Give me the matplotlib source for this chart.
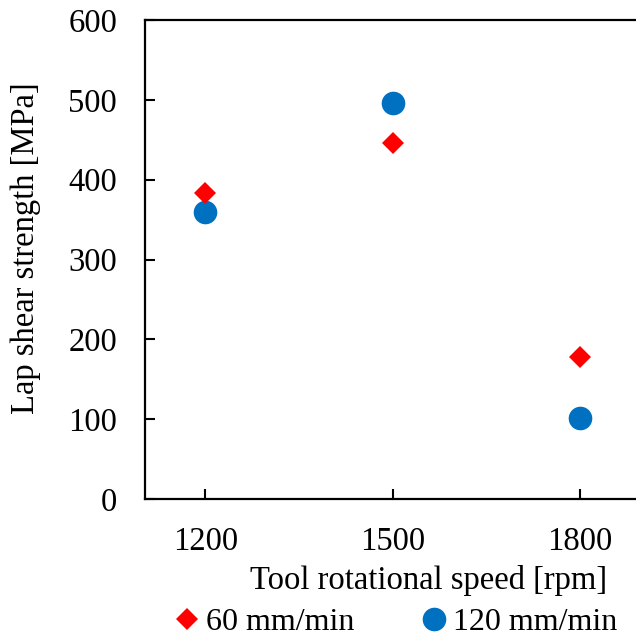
import matplotlib
matplotlib.use("Agg")
import matplotlib.pyplot as plt
from matplotlib.lines import Line2D

plt.rcParams['font.family'] = ['Liberation Serif', 'DejaVu Serif']

speeds = [1200, 1500, 1800]
strength_60 = [383, 446, 178]
strength_120 = [360, 496, 102]
series_labels = ['60 mm/min', '120 mm/min']
xticks = [1200, 1500, 1800]
yticks = [0, 100, 200, 300, 400, 500, 600]

fig = plt.figure(figsize=(6.36, 6.40), dpi=100)
ax = fig.add_axes([145/636, 141/640, 497/636, 479/640])

red = '#FF0000'
blue = '#0070C0'
ax.plot(speeds, strength_120, linestyle='none', marker='o', markersize=17,
        color=blue, markeredgewidth=0, label=series_labels[1], zorder=3)
ax.plot(speeds, strength_60, linestyle='none', marker='D', markersize=11.5,
        color=red, markeredgewidth=0, label=series_labels[0], zorder=4)

ax.set_xlim(1103, 1900)
ax.set_ylim(0, 600)
ax.set_xticks(xticks)
ax.set_yticks(yticks)
ax.tick_params(direction='in', length=7, width=1.5, labelsize=23.5)
ax.tick_params(axis='y', pad=20)
ax.tick_params(axis='x', pad=20)
for s in ax.spines.values():
    s.set_linewidth(1.6)
    s.set_color('black')

ax.set_xlabel('Tool rotational speed [rpm]', fontsize=23.5)
ax.xaxis.set_label_coords((429-145)/497, -(565-499)/479)
ax.set_ylabel('Lap shear strength [MPa]', fontsize=23.5)
ax.yaxis.set_label_coords(-(145-41)/497, (499-248)/479)

handles = [Line2D([], [], linestyle='none', marker='D', markersize=11.5, color=red, markeredgewidth=0),
           Line2D([], [], linestyle='none', marker='o', markersize=17, color=blue, markeredgewidth=0)]
fig.legend(handles, series_labels, loc='center', bbox_to_anchor=(397.5/636, (640-622)/640),
           ncol=2, frameon=False, fontsize=23, handlelength=0.6, handletextpad=0.3,
           columnspacing=2.2, borderpad=0)

fig.savefig('out.png', dpi=100)
